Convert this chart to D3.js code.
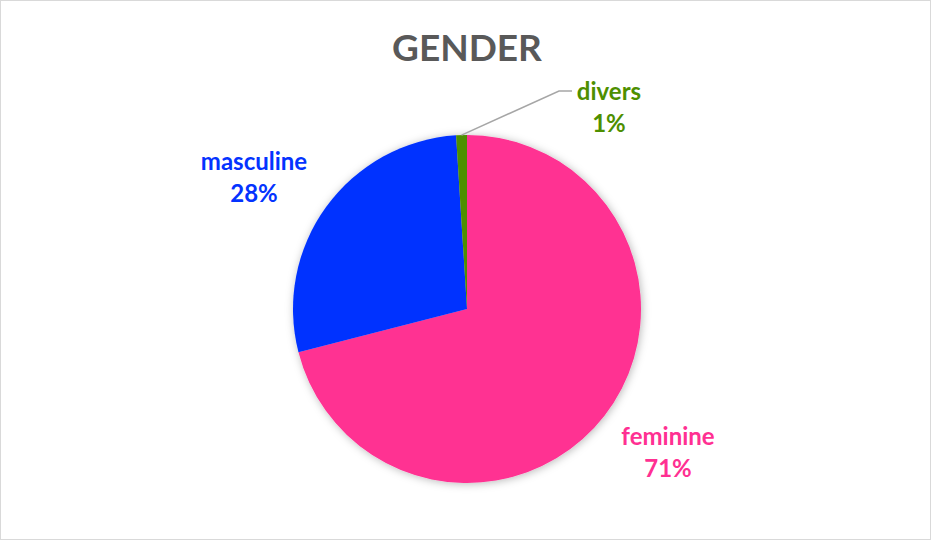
<!DOCTYPE html>
<html>
<head>
<meta charset="utf-8">
<script src="https://cdn.jsdelivr.net/npm/d3@7"></script>
<style>
  html, body { margin: 0; padding: 0; background: #fff; }
  svg { display: block; }
</style>
</head>
<body>
<svg id="chart" width="932" height="541"></svg>
<script>
// Gender split of respondents
const categories = ["feminine", "masculine", "divers"];
const shares = [71, 28, 1];
const colors = ["#FF3092", "#0433FF", "#4E8F00"];
const title = "GENDER";

const width = 932, height = 541;
const cx = 467, cy = 309, radius = 174;
const fontFamily = "Lato, 'Open Sans', sans-serif";

const svg = d3.select("#chart");

// chart frame
svg.append("rect")
  .attr("x", 0.5).attr("y", 0.5)
  .attr("width", width - 2).attr("height", height - 2)
  .attr("fill", "#fff")
  .attr("stroke", "#D9D9D9")
  .attr("stroke-width", 1);

// soft shadow under the pie
const defs = svg.append("defs");
const shadow = defs.append("filter").attr("id", "pieShadow")
  .attr("x", "-20%").attr("y", "-20%").attr("width", "140%").attr("height", "140%");
shadow.append("feDropShadow")
  .attr("dx", 1).attr("dy", 1)
  .attr("stdDeviation", 4)
  .attr("flood-color", "#000")
  .attr("flood-opacity", 0.28);

svg.append("text")
  .attr("x", 467).attr("y", 61)
  .attr("text-anchor", "middle")
  .attr("font-family", fontFamily)
  .attr("font-weight", 700)
  .attr("font-size", 37)
  .attr("fill", "#595959")
  .text(title);

const pie = d3.pie().sort(null).value(d => d)(shares);
const arc = d3.arc().innerRadius(0).outerRadius(radius);

const g = svg.append("g").attr("transform", `translate(${cx},${cy})`);
const slices = g.append("g").attr("filter", "url(#pieShadow)");
slices.selectAll("path")
  .data(pie)
  .join("path")
  .attr("d", arc)
  .attr("fill", (d, i) => colors[i]);

// label placement around the pie (relative to the center)
const labelPos = [
  { x: 201, y: 136 },   // feminine
  { x: -213, y: -139 }, // masculine
  { x: 142, y: -209 }   // divers
];

const labels = g.selectAll("g.label")
  .data(pie)
  .join("g")
  .attr("class", "label")
  .attr("transform", (d, i) => `translate(${labelPos[i].x},${labelPos[i].y})`)
  .attr("fill", (d, i) => colors[i])
  .attr("font-family", fontFamily)
  .attr("font-weight", 700)
  .attr("font-size", 24)
  .attr("text-anchor", "middle");

labels.append("text").attr("y", 0).text((d, i) => categories[i]);
labels.append("text").attr("y", 32).text(d => d.data + "%");

// leader line for the thin slice
const thin = pie[2];
const midA = (thin.startAngle + thin.endAngle) / 2;
const p0 = [Math.sin(midA) * radius, -Math.cos(midA) * radius];
const elbow = [labelPos[2].x - 50, labelPos[2].y - 9];
const end = [labelPos[2].x - 37, labelPos[2].y - 9];
g.append("polyline")
  .attr("points", [p0, elbow, end].map(p => p.join(",")).join(" "))
  .attr("fill", "none")
  .attr("stroke", "#A6A6A6")
  .attr("stroke-width", 1.5);
</script>
</body>
</html>
